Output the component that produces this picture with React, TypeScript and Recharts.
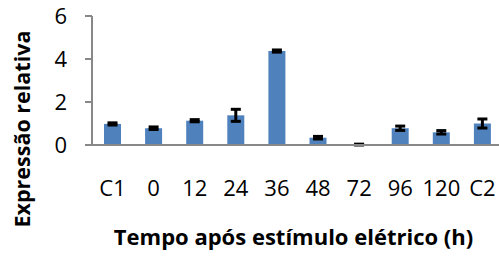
import React from 'react';
import { BarChart, Bar, XAxis, YAxis, ErrorBar } from 'recharts';

const categories = ['C1', '0', '12', '24', '36', '48', '72', '96', '120', 'C2'];
const values = [0.98, 0.78, 1.13, 1.38, 4.37, 0.34, 0.02, 0.78, 0.59, 1.0];
const errors = [0.05, 0.06, 0.05, 0.28, 0.05, 0.06, 0.02, 0.1, 0.08, 0.21];
const yTicks = [0, 2, 4, 6];

const data = categories.map((c, i) => ({ cat: c, value: values[i], err: errors[i] }));

const FONT = '"Open Sans", sans-serif';

const YLabel = () => (
  <text
    x={0}
    y={0}
    transform="translate(30, 129) rotate(-90)"
    textAnchor="middle"
    fontFamily={FONT}
    fontWeight="bold"
    fontSize={21.5}
    fill="#000"
  >
    Expressão relativa
  </text>
);

const XLabel = (props: any) => {
  const vb = props.viewBox || {};
  const cx = vb.x + vb.width / 2;
  return (
    <text
      x={cx - 4}
      y={245}
      textAnchor="middle"
      fontFamily={FONT}
      fontWeight="bold"
      fontSize={22}
      fill="#000"
    >
      Tempo após estímulo elétrico (h)
    </text>
  );
};

export default function App() {
  return (
    <div style={{ position: 'absolute', left: 0, top: 0, width: 499, height: 256, overflow: 'hidden', background: '#fff' }}>
      <BarChart
        width={503}
        height={256}
        data={data}
        margin={{ top: 16, right: 0, bottom: 0, left: 0 }}
      >
        <XAxis
          dataKey="cat"
          height={111}
          interval={0}
          tickLine={false}
          tickSize={0}
          tickMargin={35}
          axisLine={{ stroke: '#888888', strokeWidth: 2 }}
          tick={{ fill: '#000', fontSize: 22, fontFamily: FONT }}
          label={<XLabel />}
        />
        <YAxis
          width={92}
          domain={[0, 6]}
          ticks={yTicks}
          interval={0}
          tickSize={7}
          tickMargin={18}
          tickLine={{ stroke: '#888888', strokeWidth: 2 }}
          axisLine={{ stroke: '#888888', strokeWidth: 2 }}
          tick={{ fill: '#000', fontSize: 22, fontFamily: FONT }}
          label={<YLabel />}
        />
        <Bar dataKey="value" fill="#4F81BD" barSize={17} isAnimationActive={false}>
          <ErrorBar dataKey="err" width={5} stroke="#000" strokeWidth={3} />
        </Bar>
      </BarChart>
    </div>
  );
}
